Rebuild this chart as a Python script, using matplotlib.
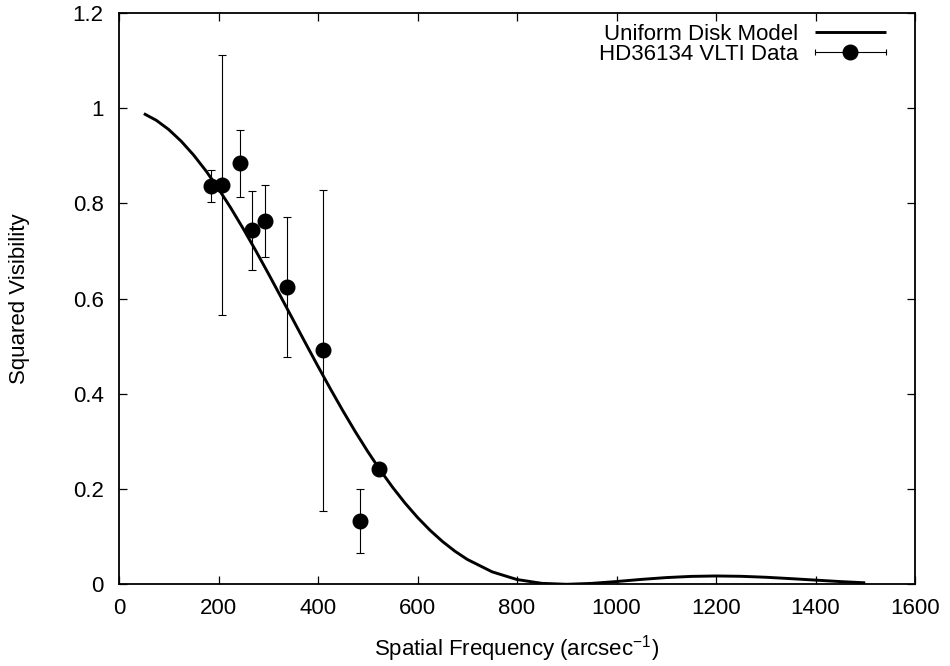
import matplotlib
matplotlib.use("Agg")
import matplotlib.pyplot as plt
from matplotlib.lines import Line2D
from matplotlib.legend_handler import HandlerBase
from matplotlib.ticker import FuncFormatter

plt.rcParams['font.family'] = ['Liberation Sans', 'DejaVu Sans']
plt.rcParams['mathtext.fontset'] = 'custom'
plt.rcParams['mathtext.rm'] = 'Liberation Sans'
plt.rcParams['mathtext.default'] = 'regular'

# uniform disk model curve
model_freq = [50, 75, 100, 125, 150, 175, 200, 225, 250, 275, 300, 325, 350,
              375, 400, 425, 450, 475, 500, 525, 550, 575, 600, 625, 650, 675,
              700, 750, 800, 850, 900, 950, 1000,
              1050, 1100, 1150, 1200, 1250, 1300, 1350, 1400, 1450, 1500]
model_v2 = [0.9886, 0.9746, 0.9552, 0.9307, 0.9016, 0.8681, 0.8307, 0.7900, 0.7464,
            0.7006, 0.6531, 0.6045, 0.5554,
            0.5063, 0.4578, 0.4104, 0.3645, 0.3205, 0.2789, 0.2398, 0.2037, 0.1705,
            0.1405, 0.1137, 0.0901, 0.0697,
            0.0523, 0.0262, 0.0100, 0.0020, 0.0000, 0.0019, 0.0058,
            0.0103, 0.0141, 0.0166, 0.0175, 0.0168, 0.0148, 0.0119, 0.0088, 0.0057, 0.0031]

# HD36134 VLTI measurements
freq = [184, 208, 243, 268, 293, 337, 411, 484, 523]
vis2 = [0.837, 0.839, 0.884, 0.744, 0.763, 0.625, 0.492, 0.133, 0.243]
vis2_err = [0.033, 0.273, 0.070, 0.083, 0.075, 0.147, 0.337, 0.067, 0.008]

x_ticks = [0, 200, 400, 600, 800, 1000, 1200, 1400, 1600]
y_ticks = [0, 0.2, 0.4, 0.6, 0.8, 1.0, 1.2]


class ErrKeyHandler(HandlerBase):
    """gnuplot style key sample: horizontal bar with caps and a dot"""
    def create_artists(self, legend, orig_handle, xdescent, ydescent,
                       width, height, fontsize, trans):
        y = height / 2 - ydescent
        x0, x1 = -xdescent, width - xdescent
        bar = Line2D([x0, x1], [y, y], color='black', lw=0.8)
        caps = Line2D([x0, x1], [y, y], ls='none', marker='|', ms=5,
                      mew=0.8, color='black')
        dot = Line2D([(x0 + x1) / 2], [y], ls='none', marker='o', ms=10.5,
                     color='black')
        for a in (bar, caps, dot):
            a.set_transform(trans)
        return [bar, caps, dot]


fig = plt.figure(figsize=(9.5, 6.66), dpi=100)
ax = fig.add_axes([119 / 950, 1 - 584.3 / 666, 796 / 950, 571.3 / 666])

model_line, = ax.plot(model_freq, model_v2, color='black', lw=2.1,
                      solid_capstyle='butt', solid_joinstyle='round')
data = ax.errorbar(freq, vis2, yerr=vis2_err, fmt='o', color='black', ms=10.5,
                   ecolor='black', elinewidth=0.8, capsize=3.2, capthick=0.8)

ax.set_xlim(0, 1600)
ax.set_ylim(0, 1.2)
ax.set_xticks(x_ticks)
ax.set_yticks(y_ticks)
ax.yaxis.set_major_formatter(FuncFormatter(lambda v, p: f'{v:g}'))
ax.tick_params(direction='in', length=5.8, width=0.9, labelsize=16,
               top=True, right=True)
ax.tick_params(axis='y', pad=11)
ax.tick_params(axis='x', pad=10)
for s in ax.spines.values():
    s.set_linewidth(1.3)

ax.set_xlabel('Spatial Frequency (arcsec$^{-1}$)', fontsize=16, labelpad=10)
ax.set_ylabel('Squared Visibility', fontsize=16, labelpad=31)

ax.legend([model_line, data], ['Uniform Disk Model', 'HD36134 VLTI Data'],
          handler_map={data: ErrKeyHandler()},
          loc='upper right', bbox_to_anchor=(0.9636, 0.9804), borderaxespad=0,
          borderpad=0, frameon=False, fontsize=16, markerfirst=False,
          handlelength=3.2, handletextpad=0.75, labelspacing=-0.05)

fig.savefig('out.png', dpi=100)
